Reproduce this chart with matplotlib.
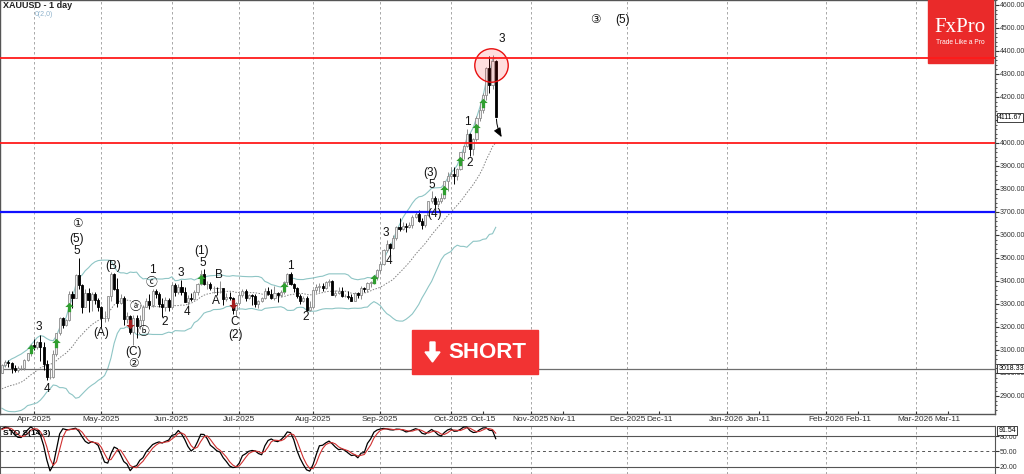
import numpy as np
import pandas as pd
import matplotlib
matplotlib.use('Agg')
import matplotlib.pyplot as plt
from matplotlib.patches import Rectangle, Polygon
from matplotlib.path import Path
import matplotlib.transforms as mtrans

# warm-up bars (19 Feb - 17 Mar 2025), only used for the indicators
warm_highs = [2947, 2955, 2954, 2956, 2952, 2927, 2920, 2880, 2900, 2929,
              2930, 2927, 2930, 2915, 2923, 2940, 2990, 3005, 3004]
warm_lows = [2922, 2925, 2918, 2930, 2890, 2897, 2875, 2833, 2857, 2880,
             2895, 2895, 2896, 2880, 2881, 2906, 2932, 2978, 2982]
warm_closes = [2933, 2940, 2936, 2952, 2915, 2916, 2876, 2858, 2893, 2918,
               2920, 2911, 2910, 2889, 2916, 2934, 2988, 2984, 3001]

# XAUUSD daily bars, 18 Mar - 21 Oct 2025
opens = [3001, 3035, 3048, 3044, 3022, 3011, 3020, 3020, 3057, 3085,
         3123, 3113, 3134, 3114, 3037, 2982, 2983, 3082, 3175, 3237,
         3210, 3230, 3342, 3327, 3424, 3381, 3289, 3349, 3319, 3344,
         3316, 3288, 3239, 3241, 3334, 3431, 3365, 3306, 3325, 3236,
         3248, 3178, 3240, 3203, 3229, 3289, 3314, 3294, 3357, 3342,
         3300, 3288, 3317, 3289, 3381, 3353, 3373, 3352, 3310, 3325,
         3322, 3354, 3386, 3432, 3385, 3388, 3369, 3370, 3368, 3368,
         3323, 3332, 3327, 3273, 3303, 3338, 3357, 3326, 3337, 3335,
         3301, 3313, 3324, 3355, 3343, 3324, 3347, 3339, 3350, 3397,
         3431, 3387, 3368, 3336, 3314, 3326, 3274, 3289, 3363, 3373,
         3380, 3368, 3397, 3398, 3341, 3348, 3355, 3335, 3336, 3332,
         3315, 3347, 3339, 3371, 3365, 3393, 3397, 3416, 3448, 3476,
         3533, 3560, 3545, 3587, 3636, 3627, 3640, 3635, 3643, 3679,
         3690, 3660, 3644, 3685, 3746, 3763, 3736, 3749, 3760, 3833,
         3858, 3866, 3857, 3886, 3961, 3985, 4041, 3976, 4018, 4110,
         4143, 4209, 4326, 4250, 4356]
highs = [3038, 3055, 3057, 3047, 3035, 3030, 3033, 3060, 3087, 3128,
         3149, 3140, 3167, 3136, 3055, 3020, 3099, 3176, 3245, 3245,
         3233, 3357, 3357, 3430, 3500, 3386, 3367, 3371, 3352, 3350,
         3328, 3290, 3269, 3336, 3437, 3435, 3414, 3345, 3336, 3264,
         3253, 3252, 3253, 3250, 3295, 3325, 3345, 3366, 3364, 3350,
         3325, 3330, 3325, 3392, 3392, 3385, 3403, 3376, 3339, 3349,
         3360, 3390, 3446, 3452, 3400, 3396, 3378, 3375, 3398, 3369,
         3346, 3350, 3330, 3309, 3358, 3365, 3366, 3345, 3342, 3345,
         3317, 3330, 3369, 3375, 3366, 3377, 3352, 3361, 3402, 3434,
         3438, 3393, 3373, 3345, 3334, 3333, 3315, 3366, 3385, 3390,
         3390, 3400, 3410, 3405, 3360, 3375, 3375, 3345, 3358, 3345,
         3350, 3350, 3378, 3376, 3396, 3398, 3423, 3454, 3489, 3540,
         3578, 3564, 3600, 3641, 3674, 3658, 3650, 3658, 3686, 3703,
         3707, 3676, 3688, 3749, 3791, 3769, 3760, 3783, 3834, 3872,
         3895, 3897, 3890, 3963, 3990, 4059, 4045, 4022, 4116, 4180,
         4218, 4330, 4380, 4381, 4359]
lows = [2999, 3024, 3027, 2999, 3003, 3004, 3012, 3015, 3054, 3076,
        3100, 3105, 3054, 3015, 2970, 2975, 2977, 3072, 3167, 3194,
        3205, 3228, 3284, 3326, 3366, 3260, 3287, 3265, 3268, 3300,
        3268, 3202, 3222, 3224, 3315, 3362, 3288, 3300, 3207, 3218,
        3171, 3121, 3154, 3190, 3205, 3285, 3277, 3287, 3325, 3285,
        3245, 3270, 3270, 3280, 3333, 3344, 3338, 3307, 3293, 3312,
        3319, 3339, 3384, 3383, 3366, 3362, 3347, 3340, 3348, 3295,
        3312, 3318, 3255, 3247, 3297, 3329, 3311, 3322, 3296, 3287,
        3283, 3310, 3322, 3341, 3320, 3319, 3309, 3332, 3345, 3383,
        3381, 3351, 3324, 3301, 3308, 3268, 3268, 3281, 3347, 3352,
        3358, 3364, 3380, 3340, 3332, 3345, 3330, 3331, 3323, 3311,
        3311, 3325, 3321, 3350, 3351, 3372, 3385, 3404, 3436, 3470,
        3527, 3511, 3537, 3579, 3619, 3621, 3614, 3629, 3630, 3675,
        3655, 3627, 3636, 3683, 3737, 3717, 3722, 3737, 3757, 3793,
        3852, 3820, 3841, 3884, 3930, 3983, 3945, 3947, 4007, 4095,
        4130, 4188, 4218, 4236, 4111]
closes = opens[1:] + [4112]

# date axis (bar numbers; future part runs on calendar days)
tick_bars = [10, 31, 53, 74, 97, 118, 140, 150, 165, 175, 195, 205, 226, 236, 257, 267, 285, 295]
tick_labels = ['Apr-2025', 'May-2025', 'Jun-2025', 'Jul-2025', 'Aug-2025', 'Sep-2025',
               'Oct-2025', 'Oct-15', 'Nov-2025', 'Nov-11', 'Dec-2025', 'Dec-11',
               'Jan-2026', 'Jan-11', 'Feb-2026', 'Feb-11', 'Mar-2026', 'Mar-11']

# levels
resistance = 4370
support = 4000
pivot = 3700
last_price = 4111.67
old_price = 3018.33

# signal arrows
buy_bars = [9, 17, 21, 62, 88, 116, 138, 143, 148, 150]
sell_bars = [40, 72]

# Elliott wave labels
wave_text = ['①', '(5)', '5', '3', '4', '(A)', '(B)', '(C)', '②', 'ⓐ', 'ⓑ', 'ⓒ', '1',
             '2', '3', '4', '(1)', '5', 'B', 'A', 'C', '(2)', '1', '2', '3', '4',
             '(3)', '5', '(4)', '1', '2', '3', '③', '(5)']
wave_bar = [23.4, 23.4, 23.4, 11.6, 14.1, 30.9, 34.6, 40.9, 40.9, 41.8, 44.0, 46.8, 46.8,
            50.8, 55.8, 57.7, 62.4, 62.7, 67.7, 66.75, 72.7, 72.7, 89.8, 94.8, 119.8, 120.7,
            133.8, 134.1, 135.0, 145.0, 145.9, 155.9, 185.2, 193.4]
wave_price = [3648, 3583, 3530, 3200, 2930, 3174, 3465, 3091, 3039, 3287, 3178, 3391, 3448,
              3222, 3435, 3265, 3530, 3478, 3426, 3313, 3222, 3165, 3465, 3243, 3609, 3487,
              3870, 3817, 3691, 4091, 3913, 4452, 4535, 4535]

W, H = 1024, 474
fig = plt.figure(figsize=(W / 100, H / 100), dpi=100)
ax = fig.add_axes([0, 1 - 414 / H, 995 / W, 414 / H])
sx = fig.add_axes([0, 0, 995 / W, (H - 426) / H], sharex=ax)

x = np.arange(len(closes))
o, h, l, c = (np.array(v, dtype=float) for v in (opens, highs, lows, closes))
up = c >= o

# indicators
all_c = pd.Series(warm_closes + list(closes), dtype=float)
all_h = pd.Series(warm_highs + highs, dtype=float)
all_l = pd.Series(warm_lows + lows, dtype=float)
n0 = len(warm_closes)
mid = all_c.rolling(20).mean()
sd = all_c.rolling(20).std(ddof=0)
bb_up = (mid + 2 * sd).values[n0:]
bb_lo = (mid - 2 * sd).values[n0:]
mid = mid.values[n0:]
ll = all_l.rolling(14).min()
hh = all_h.rolling(14).max()
raw = 100 * (all_c - ll) / (hh - ll)
k = raw.rolling(3).mean()
d = k.rolling(3).mean()
k = k.values[n0:]
d = d.values[n0:]

# grid
months = [b for b, t in zip(tick_bars, tick_labels) if '20' in t]
for a in (ax, sx):
    for b in months:
        a.axvline(b, color='#9a9a9a', lw=0.6, ls=(0, (3, 3)), zorder=1)

# bollinger
ax.plot(x, bb_up, color='#8ec5c5', lw=0.8, zorder=2)
ax.plot(x, bb_lo, color='#8ec5c5', lw=0.8, zorder=2)
ax.plot(x, mid, color='#808080', lw=0.7, ls=(0, (1.5, 1.5)), zorder=2)

# candles
ax.vlines(x[up], l[up], h[up], color='#8c8c8c', lw=0.7, zorder=3)
ax.vlines(x[~up], l[~up], h[~up], color='black', lw=0.7, zorder=3)
ax.bar(x[up], (c - o)[up], bottom=o[up], width=0.65, color='#f0f0f0',
       edgecolor='#8c8c8c', lw=0.6, zorder=4)
ax.bar(x[~up], (o - c)[~up], bottom=c[~up], width=0.65, color='black',
       edgecolor='black', lw=0.6, zorder=4)

# signal arrows
arrow_up = Path([(0, 1), (0.9, 0.1), (0.35, 0.1), (0.35, -1), (-0.35, -1),
                 (-0.35, 0.1), (-0.9, 0.1), (0, 1)])
arrow_dn = Path([(vx, -vy) for vx, vy in arrow_up.vertices])
bmid = (o + c) / 2
ax.scatter(x[buy_bars], bmid[buy_bars], marker=arrow_up, s=45, color='#2f9e2f', zorder=5, lw=0)
ax.scatter(x[sell_bars], bmid[sell_bars], marker=arrow_dn, s=45, color='#a31d1d', zorder=5, lw=0)

# levels
ax.axhline(resistance, color='#ff1a1a', lw=1.3, zorder=7)
ax.axhline(support, color='#ff1a1a', lw=1.3, zorder=7)
ax.axhline(pivot, color='#1010ff', lw=1.6, zorder=7)
ax.axhline(old_price, color='#6e6e6e', lw=0.9, zorder=2)

# highlight and projection arrow
ax.scatter([152.6], [4340], s=580, facecolor=(1, 0, 0, 0.13), edgecolor='#e81010', lw=1, zorder=6)
ax.annotate('', xy=(156.3, 4015), xytext=(x[-1] + 0.2, l[-1] + 5),
            arrowprops=dict(arrowstyle='-|>,head_length=0.55,head_width=0.22', color='black',
                            lw=0.7, connectionstyle='arc3,rad=0.15'), zorder=6)

fam = ['Liberation Sans', 'DejaVu Sans', 'Noto Sans CJK SC']
for t, b, p in zip(wave_text, wave_bar, wave_price):
    ax.text(b, p, t, ha='center', va='center', fontsize=8.5, family=fam, color='#111111', zorder=8)

ax.set_xlim(-0.6, 309.7)
ax.set_ylim(2821.7, 4621.7)
ax.yaxis.tick_right()
ax.set_yticks(np.arange(2900, 4601, 100))
ax.set_yticks(np.arange(2840, 4621, 20), minor=True)
ax.set_yticklabels([f'{v:.2f}' for v in np.arange(2900, 4601, 100)])
ax.tick_params(axis='y', which='major', length=3, pad=0.5, labelsize=5,
               colors='#333333')
ax.tick_params(axis='y', which='minor', length=1.5, colors='#333333')
ax.set_xticks(tick_bars)
ax.set_xticklabels(tick_labels)
ax.tick_params(axis='x', length=2.5, direction='in', pad=1.5, labelsize=6, colors='#333333')
for lbl in ax.get_xticklabels() + ax.get_yticklabels():
    lbl.set_family('Liberation Sans')
for s in ax.spines.values():
    s.set_color('#555555')
    s.set_linewidth(1)

# price boxes on the right scale
yb = mtrans.blended_transform_factory(ax.transAxes, ax.transData)
for v in (last_price, old_price):
    ax.text(1.0033, v, f'{v:.2f}', transform=yb, ha='left', va='center', fontsize=5,
            family='Liberation Sans', clip_on=False, zorder=9,
            bbox=dict(boxstyle='square,pad=0.12', fc='white', ec='#222222', lw=0.6))

# stochastic panel
sx.plot(x, k, color='black', lw=0.9, zorder=3)
sx.plot(x, d, color='#d03030', lw=0.8, zorder=3)
sx.axhline(80, color='#555555', lw=0.8)
sx.axhline(20, color='#555555', lw=0.8)
sx.axhline(50, color='#555555', lw=0.7, ls=(0, (3, 3)))
sx.set_ylim(5.7, 100)
sx.yaxis.tick_right()
sx.set_yticks([20, 50, 80])
sx.set_yticklabels(['20.00', '50.00', '80.00'])
sx.tick_params(axis='y', length=3, pad=0.5, labelsize=5, colors='#333333')
sx.tick_params(axis='x', length=0, labelbottom=False)
for lbl in sx.get_yticklabels():
    lbl.set_family('Liberation Sans')
for s in sx.spines.values():
    s.set_color('#555555')
sb = mtrans.blended_transform_factory(sx.transAxes, sx.transData)
sx.text(1.0033, 91.54, '91.54', transform=sb, ha='left', va='center', fontsize=5,
        family='Liberation Sans', clip_on=False,
        bbox=dict(boxstyle='square,pad=0.12', fc='white', ec='#222222', lw=0.6))
sx.text(0.003, 0.85, 'STO S(14,3)', transform=sx.transAxes, fontsize=6, weight='bold',
        va='center', family='Liberation Sans')

# titles
fig.text(3 / W, 1 - 6 / H, 'XAUUSD - 1 day', fontsize=6.5, weight='bold', va='center',
         family='Liberation Sans', color='#222222')
fig.text(35 / W, 1 - 15 / H, '0(2,0)', fontsize=5, va='center', color='#8fb3cc',
         family='Liberation Sans')

# FxPro logo
ax.add_patch(Rectangle((928 / W, 1 - 63 / H), 65 / W, 63 / H, transform=fig.transFigure,
                       color='#ea2a2a', zorder=6))
ax.text(960 / W, 1 - 27 / H, 'FxPro', transform=fig.transFigure, ha='center', va='center',
        fontsize=15, color='white', family='Liberation Serif', zorder=7)
ax.text(960 / W, 1 - 42 / H, 'Trade Like a Pro', transform=fig.transFigure, ha='center',
        va='center', fontsize=4.8, color='white', family='Liberation Sans', zorder=7)

# SHORT badge
fig.patches.append(Rectangle((412 / W, 1 - 374 / H), 126 / W, 44 / H,
                             transform=fig.transFigure, color='#f23333', zorder=10))
ax_px = [(430, 342), (435, 342), (435, 352), (440, 352), (432.5, 362), (425, 352), (430, 352)]
fig.patches.append(Polygon([(px / W, 1 - py / H) for px, py in ax_px], closed=True,
                           transform=fig.transFigure, color='white', zorder=11))
fig.text(487 / W, 1 - 352.5 / H, 'SHORT', ha='center', va='center', fontsize=16,
         weight='bold', color='white', family='Liberation Sans', zorder=12)

fig.savefig('out.png', dpi=100)
